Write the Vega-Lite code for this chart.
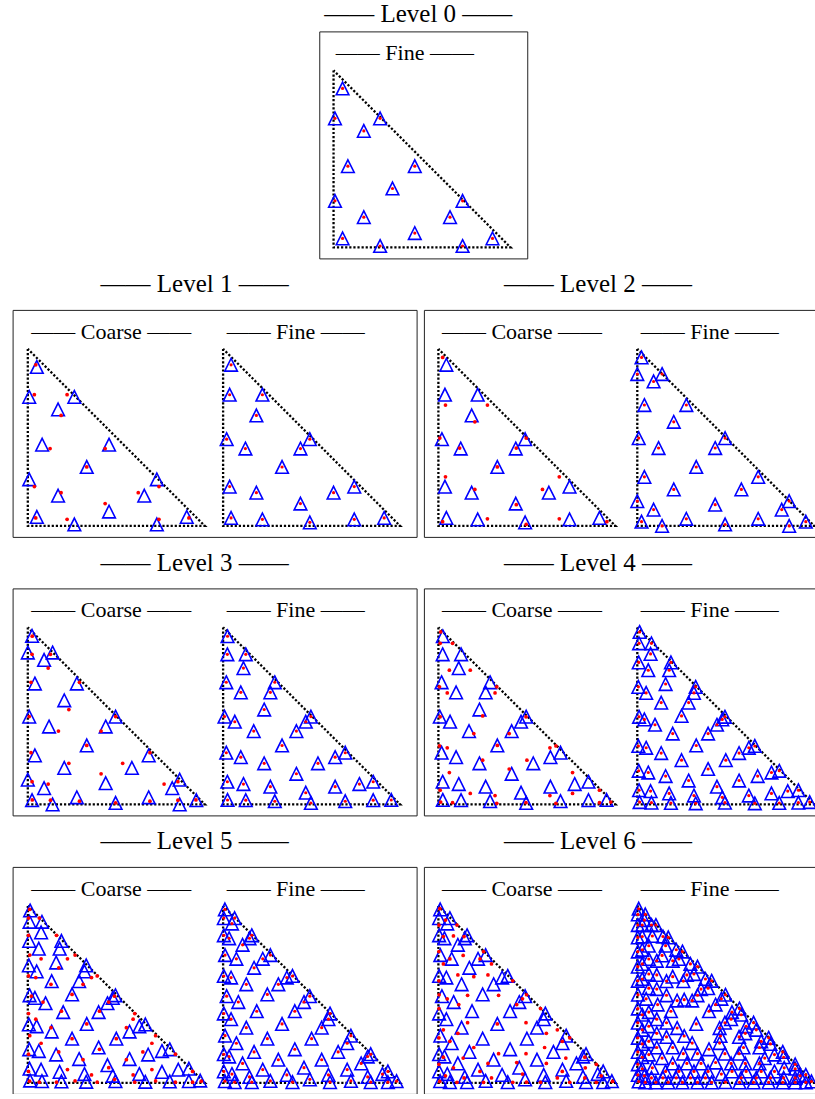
{
"$schema": "https://vega.github.io/schema/vega-lite/v6.json",
"padding": {"left": 11.5, "top": 1.4, "right": 0, "bottom": 0},
"background": "white",
"config": {
  "view": {"stroke": "#222222", "strokeWidth": 1},
  "title": {"font": "Liberation Serif", "fontSize": 25, "fontWeight": "normal", "color": "black", "anchor": "middle", "baseline": "alphabetic"},
  "point": {"shape": "M0,-1L1,1L-1,1Z", "size": 160, "filled": false, "color": "#0000ff", "strokeWidth": 1.6, "opacity": 1},
  "line": {"color": "black", "strokeWidth": 2.3, "strokeDash": [2.2, 1.9]},
  "text": {"align": "left", "baseline": "alphabetic", "font": "Liberation Serif", "fontSize": 22, "color": "black"},
  "circle": {"color": "#ff0000", "opacity": 1}
},
"datasets": {
"tri": [{"i":0,"x":0,"y":1},{"i":1,"x":0,"y":0},{"i":2,"x":1,"y":0},{"i":3,"x":0,"y":1}],
"fine": [
{"l":0,"x":0.333,"y":0.333},
{"l":0,"x":0.081,"y":0.459},{"l":0,"x":0.459,"y":0.459},{"l":0,"x":0.459,"y":0.081},
{"l":0,"x":0.171,"y":0.171},{"l":0,"x":0.171,"y":0.658},{"l":0,"x":0.658,"y":0.171},
{"l":0,"x":0.051,"y":0.051},{"l":0,"x":0.051,"y":0.898},{"l":0,"x":0.898,"y":0.051},
{"l":0,"x":0.008,"y":0.263},{"l":0,"x":0.263,"y":0.008},{"l":0,"x":0.008,"y":0.729},{"l":0,"x":0.729,"y":0.008},{"l":0,"x":0.263,"y":0.729},{"l":0,"x":0.729,"y":0.263},
{"l":1,"x":0.333,"y":0.333},
{"l":1,"x":0.02,"y":0.49},{"l":1,"x":0.49,"y":0.49},{"l":1,"x":0.49,"y":0.02},
{"l":1,"x":0.126,"y":0.437},{"l":1,"x":0.437,"y":0.437},{"l":1,"x":0.437,"y":0.126},
{"l":1,"x":0.188,"y":0.188},{"l":1,"x":0.188,"y":0.624},{"l":1,"x":0.624,"y":0.188},
{"l":1,"x":0.045,"y":0.045},{"l":1,"x":0.045,"y":0.91},{"l":1,"x":0.91,"y":0.045},
{"l":1,"x":0.037,"y":0.222},{"l":1,"x":0.222,"y":0.037},{"l":1,"x":0.037,"y":0.741},{"l":1,"x":0.741,"y":0.037},{"l":1,"x":0.222,"y":0.741},{"l":1,"x":0.741,"y":0.222},
{"l":2,"x":0.333,"y":0.333},
{"l":2,"x":0.008,"y":0.496},{"l":2,"x":0.496,"y":0.496},{"l":2,"x":0.496,"y":0.008},
{"l":2,"x":0.12,"y":0.44},{"l":2,"x":0.44,"y":0.44},{"l":2,"x":0.44,"y":0.12},
{"l":2,"x":0.206,"y":0.206},{"l":2,"x":0.206,"y":0.588},{"l":2,"x":0.588,"y":0.206},
{"l":2,"x":0.024,"y":0.024},{"l":2,"x":0.024,"y":0.952},{"l":2,"x":0.952,"y":0.024},
{"l":2,"x":0.092,"y":0.092},{"l":2,"x":0.092,"y":0.816},{"l":2,"x":0.816,"y":0.092},
{"l":2,"x":0.0,"y":0.14},{"l":2,"x":0.14,"y":0.0},{"l":2,"x":0.0,"y":0.858},{"l":2,"x":0.858,"y":0.0},{"l":2,"x":0.14,"y":0.858},{"l":2,"x":0.858,"y":0.14},
{"l":2,"x":0.04,"y":0.277},{"l":2,"x":0.277,"y":0.04},{"l":2,"x":0.04,"y":0.683},{"l":2,"x":0.683,"y":0.04},{"l":2,"x":0.277,"y":0.683},{"l":2,"x":0.683,"y":0.277},
{"l":3,"x":0.333,"y":0.333},
{"l":3,"x":0.025,"y":0.025},{"l":3,"x":0.025,"y":0.95},{"l":3,"x":0.95,"y":0.025},
{"l":3,"x":0.008,"y":0.496},{"l":3,"x":0.496,"y":0.496},{"l":3,"x":0.496,"y":0.008},
{"l":3,"x":0.066,"y":0.467},{"l":3,"x":0.467,"y":0.467},{"l":3,"x":0.467,"y":0.066},
{"l":3,"x":0.173,"y":0.414},{"l":3,"x":0.414,"y":0.414},{"l":3,"x":0.414,"y":0.173},
{"l":3,"x":0.232,"y":0.232},{"l":3,"x":0.232,"y":0.536},{"l":3,"x":0.536,"y":0.232},
{"l":3,"x":0.115,"y":0.115},{"l":3,"x":0.115,"y":0.77},{"l":3,"x":0.77,"y":0.115},
{"l":3,"x":0.024,"y":0.128},{"l":3,"x":0.128,"y":0.024},{"l":3,"x":0.024,"y":0.848},{"l":3,"x":0.848,"y":0.024},{"l":3,"x":0.128,"y":0.848},{"l":3,"x":0.848,"y":0.128},
{"l":3,"x":0.018,"y":0.292},{"l":3,"x":0.292,"y":0.018},{"l":3,"x":0.018,"y":0.69},{"l":3,"x":0.69,"y":0.018},{"l":3,"x":0.292,"y":0.69},{"l":3,"x":0.69,"y":0.292},
{"l":3,"x":0.1,"y":0.267},{"l":3,"x":0.267,"y":0.1},{"l":3,"x":0.1,"y":0.633},{"l":3,"x":0.633,"y":0.1},{"l":3,"x":0.267,"y":0.633},{"l":3,"x":0.633,"y":0.267},
{"l":4,"x":0.333,"y":0.333},
{"l":4,"x":0.013,"y":0.013},{"l":4,"x":0.013,"y":0.974},{"l":4,"x":0.974,"y":0.013},
{"l":4,"x":0.075,"y":0.075},{"l":4,"x":0.075,"y":0.85},{"l":4,"x":0.85,"y":0.075},
{"l":4,"x":0.16,"y":0.16},{"l":4,"x":0.16,"y":0.68},{"l":4,"x":0.68,"y":0.16},
{"l":4,"x":0.25,"y":0.25},{"l":4,"x":0.25,"y":0.5},{"l":4,"x":0.5,"y":0.25},
{"l":4,"x":0.01,"y":0.495},{"l":4,"x":0.495,"y":0.495},{"l":4,"x":0.495,"y":0.01},
{"l":4,"x":0.04,"y":0.48},{"l":4,"x":0.48,"y":0.48},{"l":4,"x":0.48,"y":0.04},
{"l":4,"x":0.1,"y":0.45},{"l":4,"x":0.45,"y":0.45},{"l":4,"x":0.45,"y":0.1},
{"l":4,"x":0.2,"y":0.4},{"l":4,"x":0.4,"y":0.4},{"l":4,"x":0.4,"y":0.2},
{"l":4,"x":0.01,"y":0.08},{"l":4,"x":0.08,"y":0.01},{"l":4,"x":0.01,"y":0.91},{"l":4,"x":0.91,"y":0.01},{"l":4,"x":0.08,"y":0.91},{"l":4,"x":0.91,"y":0.08},
{"l":4,"x":0.008,"y":0.19},{"l":4,"x":0.19,"y":0.008},{"l":4,"x":0.008,"y":0.802},{"l":4,"x":0.802,"y":0.008},{"l":4,"x":0.19,"y":0.802},{"l":4,"x":0.802,"y":0.19},
{"l":4,"x":0.062,"y":0.18},{"l":4,"x":0.18,"y":0.062},{"l":4,"x":0.062,"y":0.758},{"l":4,"x":0.758,"y":0.062},{"l":4,"x":0.18,"y":0.758},{"l":4,"x":0.758,"y":0.18},
{"l":4,"x":0.006,"y":0.33},{"l":4,"x":0.33,"y":0.006},{"l":4,"x":0.006,"y":0.664},{"l":4,"x":0.664,"y":0.006},{"l":4,"x":0.33,"y":0.664},{"l":4,"x":0.664,"y":0.33},
{"l":4,"x":0.05,"y":0.32},{"l":4,"x":0.32,"y":0.05},{"l":4,"x":0.05,"y":0.63},{"l":4,"x":0.63,"y":0.05},{"l":4,"x":0.32,"y":0.63},{"l":4,"x":0.63,"y":0.32},
{"l":4,"x":0.135,"y":0.29},{"l":4,"x":0.29,"y":0.135},{"l":4,"x":0.135,"y":0.575},{"l":4,"x":0.575,"y":0.135},{"l":4,"x":0.29,"y":0.575},{"l":4,"x":0.575,"y":0.29},
{"l":5,"x":0.333,"y":0.333},
{"l":5,"x":0.01,"y":0.01},{"l":5,"x":0.01,"y":0.98},{"l":5,"x":0.98,"y":0.01},
{"l":5,"x":0.05,"y":0.05},{"l":5,"x":0.05,"y":0.9},{"l":5,"x":0.9,"y":0.05},
{"l":5,"x":0.11,"y":0.11},{"l":5,"x":0.11,"y":0.78},{"l":5,"x":0.78,"y":0.11},
{"l":5,"x":0.175,"y":0.175},{"l":5,"x":0.175,"y":0.65},{"l":5,"x":0.65,"y":0.175},
{"l":5,"x":0.25,"y":0.25},{"l":5,"x":0.25,"y":0.5},{"l":5,"x":0.5,"y":0.25},
{"l":5,"x":0.02,"y":0.49},{"l":5,"x":0.49,"y":0.49},{"l":5,"x":0.49,"y":0.02},
{"l":5,"x":0.086,"y":0.457},{"l":5,"x":0.457,"y":0.457},{"l":5,"x":0.457,"y":0.086},
{"l":5,"x":0.19,"y":0.405},{"l":5,"x":0.405,"y":0.405},{"l":5,"x":0.405,"y":0.19},
{"l":5,"x":0.004,"y":0.065},{"l":5,"x":0.065,"y":0.004},{"l":5,"x":0.004,"y":0.931},{"l":5,"x":0.931,"y":0.004},{"l":5,"x":0.065,"y":0.931},{"l":5,"x":0.931,"y":0.065},
{"l":5,"x":0.004,"y":0.162},{"l":5,"x":0.162,"y":0.004},{"l":5,"x":0.004,"y":0.834},{"l":5,"x":0.834,"y":0.004},{"l":5,"x":0.162,"y":0.834},{"l":5,"x":0.834,"y":0.162},
{"l":5,"x":0.034,"y":0.149},{"l":5,"x":0.149,"y":0.034},{"l":5,"x":0.034,"y":0.817},{"l":5,"x":0.817,"y":0.034},{"l":5,"x":0.149,"y":0.817},{"l":5,"x":0.817,"y":0.149},
{"l":5,"x":0.011,"y":0.267},{"l":5,"x":0.267,"y":0.011},{"l":5,"x":0.011,"y":0.722},{"l":5,"x":0.722,"y":0.011},{"l":5,"x":0.267,"y":0.722},{"l":5,"x":0.722,"y":0.267},
{"l":5,"x":0.075,"y":0.224},{"l":5,"x":0.224,"y":0.075},{"l":5,"x":0.075,"y":0.701},{"l":5,"x":0.701,"y":0.075},{"l":5,"x":0.224,"y":0.701},{"l":5,"x":0.701,"y":0.224},
{"l":5,"x":0.004,"y":0.392},{"l":5,"x":0.392,"y":0.004},{"l":5,"x":0.004,"y":0.604},{"l":5,"x":0.604,"y":0.004},{"l":5,"x":0.392,"y":0.604},{"l":5,"x":0.604,"y":0.392},
{"l":5,"x":0.045,"y":0.36},{"l":5,"x":0.36,"y":0.045},{"l":5,"x":0.045,"y":0.595},{"l":5,"x":0.595,"y":0.045},{"l":5,"x":0.36,"y":0.595},{"l":5,"x":0.595,"y":0.36},
{"l":5,"x":0.131,"y":0.312},{"l":5,"x":0.312,"y":0.131},{"l":5,"x":0.131,"y":0.557},{"l":5,"x":0.557,"y":0.131},{"l":5,"x":0.312,"y":0.557},{"l":5,"x":0.557,"y":0.312},
{"l":6,"x":0.333,"y":0.333},
{"l":6,"x":0.008,"y":0.008},{"l":6,"x":0.008,"y":0.984},{"l":6,"x":0.984,"y":0.008},
{"l":6,"x":0.04,"y":0.04},{"l":6,"x":0.04,"y":0.92},{"l":6,"x":0.92,"y":0.04},
{"l":6,"x":0.085,"y":0.085},{"l":6,"x":0.085,"y":0.83},{"l":6,"x":0.83,"y":0.085},
{"l":6,"x":0.14,"y":0.14},{"l":6,"x":0.14,"y":0.72},{"l":6,"x":0.72,"y":0.14},
{"l":6,"x":0.2,"y":0.2},{"l":6,"x":0.2,"y":0.6},{"l":6,"x":0.6,"y":0.2},
{"l":6,"x":0.265,"y":0.265},{"l":6,"x":0.265,"y":0.47},{"l":6,"x":0.47,"y":0.265},
{"l":6,"x":0.004,"y":0.498},{"l":6,"x":0.498,"y":0.498},{"l":6,"x":0.498,"y":0.004},
{"l":6,"x":0.05,"y":0.475},{"l":6,"x":0.475,"y":0.475},{"l":6,"x":0.475,"y":0.05},
{"l":6,"x":0.115,"y":0.4425},{"l":6,"x":0.4425,"y":0.4425},{"l":6,"x":0.4425,"y":0.115},
{"l":6,"x":0.19,"y":0.405},{"l":6,"x":0.405,"y":0.405},{"l":6,"x":0.405,"y":0.19},
{"l":6,"x":0.003,"y":0.045},{"l":6,"x":0.045,"y":0.003},{"l":6,"x":0.003,"y":0.952},{"l":6,"x":0.952,"y":0.003},{"l":6,"x":0.045,"y":0.952},{"l":6,"x":0.952,"y":0.045},
{"l":6,"x":0.003,"y":0.105},{"l":6,"x":0.105,"y":0.003},{"l":6,"x":0.003,"y":0.892},{"l":6,"x":0.892,"y":0.003},{"l":6,"x":0.105,"y":0.892},{"l":6,"x":0.892,"y":0.105},
{"l":6,"x":0.003,"y":0.175},{"l":6,"x":0.175,"y":0.003},{"l":6,"x":0.003,"y":0.822},{"l":6,"x":0.822,"y":0.003},{"l":6,"x":0.175,"y":0.822},{"l":6,"x":0.822,"y":0.175},
{"l":6,"x":0.003,"y":0.255},{"l":6,"x":0.255,"y":0.003},{"l":6,"x":0.003,"y":0.742},{"l":6,"x":0.742,"y":0.003},{"l":6,"x":0.255,"y":0.742},{"l":6,"x":0.742,"y":0.255},
{"l":6,"x":0.003,"y":0.34},{"l":6,"x":0.34,"y":0.003},{"l":6,"x":0.003,"y":0.657},{"l":6,"x":0.657,"y":0.003},{"l":6,"x":0.34,"y":0.657},{"l":6,"x":0.657,"y":0.34},
{"l":6,"x":0.003,"y":0.42},{"l":6,"x":0.42,"y":0.003},{"l":6,"x":0.003,"y":0.577},{"l":6,"x":0.577,"y":0.003},{"l":6,"x":0.42,"y":0.577},{"l":6,"x":0.577,"y":0.42},
{"l":6,"x":0.028,"y":0.08},{"l":6,"x":0.08,"y":0.028},{"l":6,"x":0.028,"y":0.892},{"l":6,"x":0.892,"y":0.028},{"l":6,"x":0.08,"y":0.892},{"l":6,"x":0.892,"y":0.08},
{"l":6,"x":0.028,"y":0.145},{"l":6,"x":0.145,"y":0.028},{"l":6,"x":0.028,"y":0.827},{"l":6,"x":0.827,"y":0.028},{"l":6,"x":0.145,"y":0.827},{"l":6,"x":0.827,"y":0.145},
{"l":6,"x":0.028,"y":0.22},{"l":6,"x":0.22,"y":0.028},{"l":6,"x":0.028,"y":0.752},{"l":6,"x":0.752,"y":0.028},{"l":6,"x":0.22,"y":0.752},{"l":6,"x":0.752,"y":0.22},
{"l":6,"x":0.028,"y":0.3},{"l":6,"x":0.3,"y":0.028},{"l":6,"x":0.028,"y":0.672},{"l":6,"x":0.672,"y":0.028},{"l":6,"x":0.3,"y":0.672},{"l":6,"x":0.672,"y":0.3},
{"l":6,"x":0.028,"y":0.385},{"l":6,"x":0.385,"y":0.028},{"l":6,"x":0.028,"y":0.587},{"l":6,"x":0.587,"y":0.028},{"l":6,"x":0.385,"y":0.587},{"l":6,"x":0.587,"y":0.385},
{"l":6,"x":0.065,"y":0.16},{"l":6,"x":0.16,"y":0.065},{"l":6,"x":0.065,"y":0.775},{"l":6,"x":0.775,"y":0.065},{"l":6,"x":0.16,"y":0.775},{"l":6,"x":0.775,"y":0.16},
{"l":6,"x":0.065,"y":0.235},{"l":6,"x":0.235,"y":0.065},{"l":6,"x":0.065,"y":0.7},{"l":6,"x":0.7,"y":0.065},{"l":6,"x":0.235,"y":0.7},{"l":6,"x":0.7,"y":0.235},
{"l":6,"x":0.065,"y":0.32},{"l":6,"x":0.32,"y":0.065},{"l":6,"x":0.065,"y":0.615},{"l":6,"x":0.615,"y":0.065},{"l":6,"x":0.32,"y":0.615},{"l":6,"x":0.615,"y":0.32},
{"l":6,"x":0.065,"y":0.4},{"l":6,"x":0.4,"y":0.065},{"l":6,"x":0.065,"y":0.535},{"l":6,"x":0.535,"y":0.065},{"l":6,"x":0.4,"y":0.535},{"l":6,"x":0.535,"y":0.4},
{"l":6,"x":0.11,"y":0.2},{"l":6,"x":0.2,"y":0.11},{"l":6,"x":0.11,"y":0.69},{"l":6,"x":0.69,"y":0.11},{"l":6,"x":0.2,"y":0.69},{"l":6,"x":0.69,"y":0.2},
{"l":6,"x":0.11,"y":0.28},{"l":6,"x":0.28,"y":0.11},{"l":6,"x":0.11,"y":0.61},{"l":6,"x":0.61,"y":0.11},{"l":6,"x":0.28,"y":0.61},{"l":6,"x":0.61,"y":0.28},
{"l":6,"x":0.11,"y":0.36},{"l":6,"x":0.36,"y":0.11},{"l":6,"x":0.11,"y":0.53},{"l":6,"x":0.53,"y":0.11},{"l":6,"x":0.36,"y":0.53},{"l":6,"x":0.53,"y":0.36},
{"l":6,"x":0.165,"y":0.26},{"l":6,"x":0.26,"y":0.165},{"l":6,"x":0.165,"y":0.575},{"l":6,"x":0.575,"y":0.165},{"l":6,"x":0.26,"y":0.575},{"l":6,"x":0.575,"y":0.26},
{"l":6,"x":0.165,"y":0.34},{"l":6,"x":0.34,"y":0.165},{"l":6,"x":0.165,"y":0.495},{"l":6,"x":0.495,"y":0.165},{"l":6,"x":0.34,"y":0.495},{"l":6,"x":0.495,"y":0.34},
{"l":6,"x":0.225,"y":0.31},{"l":6,"x":0.31,"y":0.225},{"l":6,"x":0.225,"y":0.465},{"l":6,"x":0.465,"y":0.225},{"l":6,"x":0.31,"y":0.465},{"l":6,"x":0.465,"y":0.31}
],
"red": [
{"l":1,"x":0.333,"y":0.333},
{"l":1,"x":0.126,"y":0.437},{"l":1,"x":0.437,"y":0.437},{"l":1,"x":0.437,"y":0.126},
{"l":1,"x":0.188,"y":0.188},{"l":1,"x":0.188,"y":0.624},{"l":1,"x":0.624,"y":0.188},
{"l":1,"x":0.045,"y":0.045},{"l":1,"x":0.045,"y":0.91},{"l":1,"x":0.91,"y":0.045},
{"l":1,"x":0.037,"y":0.222},{"l":1,"x":0.222,"y":0.037},{"l":1,"x":0.037,"y":0.741},{"l":1,"x":0.741,"y":0.037},{"l":1,"x":0.222,"y":0.741},{"l":1,"x":0.741,"y":0.222},
{"l":2,"x":0.333,"y":0.333},
{"l":2,"x":0.008,"y":0.496},{"l":2,"x":0.496,"y":0.496},{"l":2,"x":0.496,"y":0.008},
{"l":2,"x":0.12,"y":0.44},{"l":2,"x":0.44,"y":0.44},{"l":2,"x":0.44,"y":0.12},
{"l":2,"x":0.206,"y":0.206},{"l":2,"x":0.206,"y":0.588},{"l":2,"x":0.588,"y":0.206},
{"l":2,"x":0.024,"y":0.024},{"l":2,"x":0.024,"y":0.952},{"l":2,"x":0.952,"y":0.024},
{"l":2,"x":0.04,"y":0.277},{"l":2,"x":0.277,"y":0.04},{"l":2,"x":0.04,"y":0.683},{"l":2,"x":0.683,"y":0.04},{"l":2,"x":0.277,"y":0.683},{"l":2,"x":0.683,"y":0.277},
{"l":3,"x":0.333,"y":0.333},
{"l":3,"x":0.025,"y":0.025},{"l":3,"x":0.025,"y":0.95},{"l":3,"x":0.95,"y":0.025},
{"l":3,"x":0.008,"y":0.496},{"l":3,"x":0.496,"y":0.496},{"l":3,"x":0.496,"y":0.008},
{"l":3,"x":0.173,"y":0.414},{"l":3,"x":0.414,"y":0.414},{"l":3,"x":0.414,"y":0.173},
{"l":3,"x":0.232,"y":0.232},{"l":3,"x":0.232,"y":0.536},{"l":3,"x":0.536,"y":0.232},
{"l":3,"x":0.115,"y":0.115},{"l":3,"x":0.115,"y":0.77},{"l":3,"x":0.77,"y":0.115},
{"l":3,"x":0.024,"y":0.128},{"l":3,"x":0.128,"y":0.024},{"l":3,"x":0.024,"y":0.848},{"l":3,"x":0.848,"y":0.024},{"l":3,"x":0.128,"y":0.848},{"l":3,"x":0.848,"y":0.128},
{"l":3,"x":0.018,"y":0.292},{"l":3,"x":0.292,"y":0.018},{"l":3,"x":0.018,"y":0.69},{"l":3,"x":0.69,"y":0.018},{"l":3,"x":0.292,"y":0.69},{"l":3,"x":0.69,"y":0.292},
{"l":4,"x":0.333,"y":0.333},
{"l":4,"x":0.013,"y":0.013},{"l":4,"x":0.013,"y":0.974},{"l":4,"x":0.974,"y":0.013},
{"l":4,"x":0.25,"y":0.25},{"l":4,"x":0.25,"y":0.5},{"l":4,"x":0.5,"y":0.25},
{"l":4,"x":0.01,"y":0.495},{"l":4,"x":0.495,"y":0.495},{"l":4,"x":0.495,"y":0.01},
{"l":4,"x":0.2,"y":0.4},{"l":4,"x":0.4,"y":0.4},{"l":4,"x":0.4,"y":0.2},
{"l":4,"x":0.01,"y":0.08},{"l":4,"x":0.08,"y":0.01},{"l":4,"x":0.01,"y":0.91},{"l":4,"x":0.91,"y":0.01},{"l":4,"x":0.08,"y":0.91},{"l":4,"x":0.91,"y":0.08},
{"l":4,"x":0.062,"y":0.18},{"l":4,"x":0.18,"y":0.062},{"l":4,"x":0.062,"y":0.758},{"l":4,"x":0.758,"y":0.062},{"l":4,"x":0.18,"y":0.758},{"l":4,"x":0.758,"y":0.18},
{"l":4,"x":0.006,"y":0.33},{"l":4,"x":0.33,"y":0.006},{"l":4,"x":0.006,"y":0.664},{"l":4,"x":0.664,"y":0.006},{"l":4,"x":0.33,"y":0.664},{"l":4,"x":0.664,"y":0.33},
{"l":4,"x":0.05,"y":0.32},{"l":4,"x":0.32,"y":0.05},{"l":4,"x":0.05,"y":0.63},{"l":4,"x":0.63,"y":0.05},{"l":4,"x":0.32,"y":0.63},{"l":4,"x":0.63,"y":0.32},
{"l":5,"x":0.333,"y":0.333},
{"l":5,"x":0.01,"y":0.01},{"l":5,"x":0.01,"y":0.98},{"l":5,"x":0.98,"y":0.01},
{"l":5,"x":0.175,"y":0.175},{"l":5,"x":0.175,"y":0.65},{"l":5,"x":0.65,"y":0.175},
{"l":5,"x":0.25,"y":0.25},{"l":5,"x":0.25,"y":0.5},{"l":5,"x":0.5,"y":0.25},
{"l":5,"x":0.02,"y":0.49},{"l":5,"x":0.49,"y":0.49},{"l":5,"x":0.49,"y":0.02},
{"l":5,"x":0.086,"y":0.457},{"l":5,"x":0.457,"y":0.457},{"l":5,"x":0.457,"y":0.086},
{"l":5,"x":0.19,"y":0.405},{"l":5,"x":0.405,"y":0.405},{"l":5,"x":0.405,"y":0.19},
{"l":5,"x":0.004,"y":0.065},{"l":5,"x":0.065,"y":0.004},{"l":5,"x":0.004,"y":0.931},{"l":5,"x":0.931,"y":0.004},{"l":5,"x":0.065,"y":0.931},{"l":5,"x":0.931,"y":0.065},
{"l":5,"x":0.004,"y":0.162},{"l":5,"x":0.162,"y":0.004},{"l":5,"x":0.004,"y":0.834},{"l":5,"x":0.834,"y":0.004},{"l":5,"x":0.162,"y":0.834},{"l":5,"x":0.834,"y":0.162},
{"l":5,"x":0.011,"y":0.267},{"l":5,"x":0.267,"y":0.011},{"l":5,"x":0.011,"y":0.722},{"l":5,"x":0.722,"y":0.011},{"l":5,"x":0.267,"y":0.722},{"l":5,"x":0.722,"y":0.267},
{"l":5,"x":0.075,"y":0.224},{"l":5,"x":0.224,"y":0.075},{"l":5,"x":0.075,"y":0.701},{"l":5,"x":0.701,"y":0.075},{"l":5,"x":0.224,"y":0.701},{"l":5,"x":0.701,"y":0.224},
{"l":5,"x":0.004,"y":0.392},{"l":5,"x":0.392,"y":0.004},{"l":5,"x":0.004,"y":0.604},{"l":5,"x":0.604,"y":0.004},{"l":5,"x":0.392,"y":0.604},{"l":5,"x":0.604,"y":0.392},
{"l":5,"x":0.045,"y":0.36},{"l":5,"x":0.36,"y":0.045},{"l":5,"x":0.045,"y":0.595},{"l":5,"x":0.595,"y":0.045},{"l":5,"x":0.36,"y":0.595},{"l":5,"x":0.595,"y":0.36},
{"l":5,"x":0.131,"y":0.312},{"l":5,"x":0.312,"y":0.131},{"l":5,"x":0.131,"y":0.557},{"l":5,"x":0.557,"y":0.131},{"l":5,"x":0.312,"y":0.557},{"l":5,"x":0.557,"y":0.312},
{"l":6,"x":0.333,"y":0.333},
{"l":6,"x":0.008,"y":0.008},{"l":6,"x":0.008,"y":0.984},{"l":6,"x":0.984,"y":0.008},
{"l":6,"x":0.04,"y":0.04},{"l":6,"x":0.04,"y":0.92},{"l":6,"x":0.92,"y":0.04},
{"l":6,"x":0.085,"y":0.085},{"l":6,"x":0.085,"y":0.83},{"l":6,"x":0.83,"y":0.085},
{"l":6,"x":0.14,"y":0.14},{"l":6,"x":0.14,"y":0.72},{"l":6,"x":0.72,"y":0.14},
{"l":6,"x":0.2,"y":0.2},{"l":6,"x":0.2,"y":0.6},{"l":6,"x":0.6,"y":0.2},
{"l":6,"x":0.004,"y":0.498},{"l":6,"x":0.498,"y":0.498},{"l":6,"x":0.498,"y":0.004},
{"l":6,"x":0.05,"y":0.475},{"l":6,"x":0.475,"y":0.475},{"l":6,"x":0.475,"y":0.05},
{"l":6,"x":0.115,"y":0.4425},{"l":6,"x":0.4425,"y":0.4425},{"l":6,"x":0.4425,"y":0.115},
{"l":6,"x":0.003,"y":0.105},{"l":6,"x":0.105,"y":0.003},{"l":6,"x":0.003,"y":0.892},{"l":6,"x":0.892,"y":0.003},{"l":6,"x":0.105,"y":0.892},{"l":6,"x":0.892,"y":0.105},
{"l":6,"x":0.003,"y":0.255},{"l":6,"x":0.255,"y":0.003},{"l":6,"x":0.003,"y":0.742},{"l":6,"x":0.742,"y":0.003},{"l":6,"x":0.255,"y":0.742},{"l":6,"x":0.742,"y":0.255},
{"l":6,"x":0.003,"y":0.42},{"l":6,"x":0.42,"y":0.003},{"l":6,"x":0.003,"y":0.577},{"l":6,"x":0.577,"y":0.003},{"l":6,"x":0.42,"y":0.577},{"l":6,"x":0.577,"y":0.42},
{"l":6,"x":0.028,"y":0.145},{"l":6,"x":0.145,"y":0.028},{"l":6,"x":0.028,"y":0.827},{"l":6,"x":0.827,"y":0.028},{"l":6,"x":0.145,"y":0.827},{"l":6,"x":0.827,"y":0.145},
{"l":6,"x":0.028,"y":0.3},{"l":6,"x":0.3,"y":0.028},{"l":6,"x":0.028,"y":0.672},{"l":6,"x":0.672,"y":0.028},{"l":6,"x":0.3,"y":0.672},{"l":6,"x":0.672,"y":0.3},
{"l":6,"x":0.065,"y":0.235},{"l":6,"x":0.235,"y":0.065},{"l":6,"x":0.065,"y":0.7},{"l":6,"x":0.7,"y":0.065},{"l":6,"x":0.235,"y":0.7},{"l":6,"x":0.7,"y":0.235},
{"l":6,"x":0.11,"y":0.28},{"l":6,"x":0.28,"y":0.11},{"l":6,"x":0.11,"y":0.61},{"l":6,"x":0.61,"y":0.11},{"l":6,"x":0.28,"y":0.61},{"l":6,"x":0.61,"y":0.28},
{"l":6,"x":0.165,"y":0.34},{"l":6,"x":0.34,"y":0.165},{"l":6,"x":0.165,"y":0.495},{"l":6,"x":0.495,"y":0.165},{"l":6,"x":0.34,"y":0.495},{"l":6,"x":0.495,"y":0.34}
]
},
"spacing": 12.5,
"center": true,
"vconcat": [
{
 "width": 208, "height": 227,
 "title": {"text": "—— Level 0 ——", "offset": 4, "dx": -5},
 "layer": [
  {"data": {"name": "tri"}, "mark": "line",
   "encoding": {"x": {"field": "x", "type": "quantitative", "scale": {"domain": [-0.0808, 1.0944], "nice": false}, "axis": null},
                "y": {"field": "y", "type": "quantitative", "scale": {"domain": [-0.0621, 1.2203], "nice": false}, "axis": null},
                "order": {"field": "i", "type": "quantitative"}}},
  {"data": {"name": "fine"}, "transform": [{"filter": "datum.l == 0"}], "mark": "point",
   "encoding": {"x": {"field": "x", "type": "quantitative", "scale": {"domain": [-0.0808, 1.0944], "nice": false}, "axis": null},
                "y": {"field": "y", "type": "quantitative", "scale": {"domain": [-0.0621, 1.2203], "nice": false}, "axis": null}}},
  {"data": {"name": "fine"}, "transform": [{"filter": "datum.l == 0"}], "mark": {"type": "circle", "size": 10},
   "encoding": {"x": {"field": "x", "type": "quantitative", "scale": {"domain": [-0.0808, 1.0944], "nice": false}, "axis": null},
                "y": {"field": "y", "type": "quantitative", "scale": {"domain": [-0.0621, 1.2203], "nice": false}, "axis": null}}},
  {"data": {"values": [{}]}, "mark": "text",
   "encoding": {"x": {"datum": 0.013, "type": "quantitative", "scale": {"domain": [-0.0808, 1.0944], "nice": false}, "axis": null},
                "y": {"datum": 1.0565, "type": "quantitative", "scale": {"domain": [-0.0621, 1.2203], "nice": false}, "axis": null},
                "text": {"value": "—— Fine ——"}}}
 ]
},
{"hconcat": [
 {"width": 404, "height": 227, "title": {"text": "—— Level 1 ——", "offset": 12.4, "dx": -20},
  "resolve": {"scale": {"x": "independent"}},
  "layer": [
   {"layer": [
    {"data": {"name": "tri"}, "mark": "line",
     "encoding": {"x": {"field": "x", "type": "quantitative", "scale": {"domain": [-0.0859, 2.1966], "nice": false}, "axis": null},
                  "y": {"field": "y", "type": "quantitative", "scale": {"domain": [-0.0621, 1.2203], "nice": false}, "axis": null},
                  "order": {"field": "i", "type": "quantitative"}}},
    {"data": {"name": "fine"}, "transform": [{"filter": "datum.l == 0"}], "mark": "point",
     "encoding": {"x": {"field": "x", "type": "quantitative", "scale": {"domain": [-0.0859, 2.1966], "nice": false}, "axis": null},
                  "y": {"field": "y", "type": "quantitative", "scale": {"domain": [-0.0621, 1.2203], "nice": false}, "axis": null}}},
    {"data": {"name": "red"}, "transform": [{"filter": "datum.l == 1"}], "mark": {"type": "circle", "size": 14},
     "encoding": {"x": {"field": "x", "type": "quantitative", "scale": {"domain": [-0.0859, 2.1966], "nice": false}, "axis": null},
                  "y": {"field": "y", "type": "quantitative", "scale": {"domain": [-0.0621, 1.2203], "nice": false}, "axis": null}}},
    {"data": {"values": [{}]}, "mark": "text",
     "encoding": {"x": {"datum": 0.02, "type": "quantitative", "scale": {"domain": [-0.0859, 2.1966], "nice": false}, "axis": null},
                  "y": {"datum": 1.0565, "type": "quantitative", "scale": {"domain": [-0.0621, 1.2203], "nice": false}, "axis": null},
                  "text": {"value": "—— Coarse ——"}}}
   ]},
   {"layer": [
    {"data": {"name": "tri"}, "mark": "line",
     "encoding": {"x": {"field": "x", "type": "quantitative", "scale": {"domain": [-1.1893, 1.0932], "nice": false}, "axis": null},
                  "y": {"field": "y", "type": "quantitative", "scale": {"domain": [-0.0621, 1.2203], "nice": false}, "axis": null},
                  "order": {"field": "i", "type": "quantitative"}}},
    {"data": {"name": "fine"}, "transform": [{"filter": "datum.l == 1"}], "mark": "point",
     "encoding": {"x": {"field": "x", "type": "quantitative", "scale": {"domain": [-1.1893, 1.0932], "nice": false}, "axis": null},
                  "y": {"field": "y", "type": "quantitative", "scale": {"domain": [-0.0621, 1.2203], "nice": false}, "axis": null}}},
    {"data": {"name": "fine"}, "transform": [{"filter": "datum.l == 1"}], "mark": {"type": "circle", "size": 10},
     "encoding": {"x": {"field": "x", "type": "quantitative", "scale": {"domain": [-1.1893, 1.0932], "nice": false}, "axis": null},
                  "y": {"field": "y", "type": "quantitative", "scale": {"domain": [-0.0621, 1.2203], "nice": false}, "axis": null}}},
    {"data": {"values": [{}]}, "mark": "text",
     "encoding": {"x": {"datum": 0.02, "type": "quantitative", "scale": {"domain": [-1.1893, 1.0932], "nice": false}, "axis": null},
                  "y": {"datum": 1.0565, "type": "quantitative", "scale": {"domain": [-0.0621, 1.2203], "nice": false}, "axis": null},
                  "text": {"value": "—— Fine ——"}}}
   ]}
  ]},
 {"width": 410, "height": 227, "title": {"text": "—— Level 2 ——", "offset": 12.4, "dx": -31},
  "resolve": {"scale": {"x": "independent"}},
  "layer": [
   {"layer": [
    {"data": {"name": "tri"}, "mark": "line",
     "encoding": {"x": {"field": "x", "type": "quantitative", "scale": {"domain": [-0.0819, 2.2345], "nice": false}, "axis": null},
                  "y": {"field": "y", "type": "quantitative", "scale": {"domain": [-0.0621, 1.2203], "nice": false}, "axis": null},
                  "order": {"field": "i", "type": "quantitative"}}},
    {"data": {"name": "fine"}, "transform": [{"filter": "datum.l == 1"}], "mark": "point",
     "encoding": {"x": {"field": "x", "type": "quantitative", "scale": {"domain": [-0.0819, 2.2345], "nice": false}, "axis": null},
                  "y": {"field": "y", "type": "quantitative", "scale": {"domain": [-0.0621, 1.2203], "nice": false}, "axis": null}}},
    {"data": {"name": "red"}, "transform": [{"filter": "datum.l == 2"}], "mark": {"type": "circle", "size": 14},
     "encoding": {"x": {"field": "x", "type": "quantitative", "scale": {"domain": [-0.0819, 2.2345], "nice": false}, "axis": null},
                  "y": {"field": "y", "type": "quantitative", "scale": {"domain": [-0.0621, 1.2203], "nice": false}, "axis": null}}},
    {"data": {"values": [{}]}, "mark": "text",
     "encoding": {"x": {"datum": 0.02, "type": "quantitative", "scale": {"domain": [-0.0819, 2.2345], "nice": false}, "axis": null},
                  "y": {"datum": 1.0565, "type": "quantitative", "scale": {"domain": [-0.0621, 1.2203], "nice": false}, "axis": null},
                  "text": {"value": "—— Coarse ——"}}}
   ]},
   {"layer": [
    {"data": {"name": "tri"}, "mark": "line",
     "encoding": {"x": {"field": "x", "type": "quantitative", "scale": {"domain": [-1.2056, 1.1107], "nice": false}, "axis": null},
                  "y": {"field": "y", "type": "quantitative", "scale": {"domain": [-0.0621, 1.2203], "nice": false}, "axis": null},
                  "order": {"field": "i", "type": "quantitative"}}},
    {"data": {"name": "fine"}, "transform": [{"filter": "datum.l == 2"}], "mark": "point",
     "encoding": {"x": {"field": "x", "type": "quantitative", "scale": {"domain": [-1.2056, 1.1107], "nice": false}, "axis": null},
                  "y": {"field": "y", "type": "quantitative", "scale": {"domain": [-0.0621, 1.2203], "nice": false}, "axis": null}}},
    {"data": {"name": "fine"}, "transform": [{"filter": "datum.l == 2"}], "mark": {"type": "circle", "size": 10},
     "encoding": {"x": {"field": "x", "type": "quantitative", "scale": {"domain": [-1.2056, 1.1107], "nice": false}, "axis": null},
                  "y": {"field": "y", "type": "quantitative", "scale": {"domain": [-0.0621, 1.2203], "nice": false}, "axis": null}}},
    {"data": {"values": [{}]}, "mark": "text",
     "encoding": {"x": {"datum": 0.02, "type": "quantitative", "scale": {"domain": [-1.2056, 1.1107], "nice": false}, "axis": null},
                  "y": {"datum": 1.0565, "type": "quantitative", "scale": {"domain": [-0.0621, 1.2203], "nice": false}, "axis": null},
                  "text": {"value": "—— Fine ——"}}}
   ]}
  ]}
 ], "spacing": 7.3, "bounds": "flush"},
{"hconcat": [
 {"width": 404, "height": 227, "title": {"text": "—— Level 3 ——", "offset": 12.4, "dx": -20},
  "resolve": {"scale": {"x": "independent"}},
  "layer": [
   {"layer": [
    {"data": {"name": "tri"}, "mark": "line",
     "encoding": {"x": {"field": "x", "type": "quantitative", "scale": {"domain": [-0.0859, 2.1966], "nice": false}, "axis": null},
                  "y": {"field": "y", "type": "quantitative", "scale": {"domain": [-0.0621, 1.2203], "nice": false}, "axis": null},
                  "order": {"field": "i", "type": "quantitative"}}},
    {"data": {"name": "fine"}, "transform": [{"filter": "datum.l == 2"}], "mark": "point",
     "encoding": {"x": {"field": "x", "type": "quantitative", "scale": {"domain": [-0.0859, 2.1966], "nice": false}, "axis": null},
                  "y": {"field": "y", "type": "quantitative", "scale": {"domain": [-0.0621, 1.2203], "nice": false}, "axis": null}}},
    {"data": {"name": "red"}, "transform": [{"filter": "datum.l == 3"}], "mark": {"type": "circle", "size": 14},
     "encoding": {"x": {"field": "x", "type": "quantitative", "scale": {"domain": [-0.0859, 2.1966], "nice": false}, "axis": null},
                  "y": {"field": "y", "type": "quantitative", "scale": {"domain": [-0.0621, 1.2203], "nice": false}, "axis": null}}},
    {"data": {"values": [{}]}, "mark": "text",
     "encoding": {"x": {"datum": 0.02, "type": "quantitative", "scale": {"domain": [-0.0859, 2.1966], "nice": false}, "axis": null},
                  "y": {"datum": 1.0565, "type": "quantitative", "scale": {"domain": [-0.0621, 1.2203], "nice": false}, "axis": null},
                  "text": {"value": "—— Coarse ——"}}}
   ]},
   {"layer": [
    {"data": {"name": "tri"}, "mark": "line",
     "encoding": {"x": {"field": "x", "type": "quantitative", "scale": {"domain": [-1.1893, 1.0932], "nice": false}, "axis": null},
                  "y": {"field": "y", "type": "quantitative", "scale": {"domain": [-0.0621, 1.2203], "nice": false}, "axis": null},
                  "order": {"field": "i", "type": "quantitative"}}},
    {"data": {"name": "fine"}, "transform": [{"filter": "datum.l == 3"}], "mark": "point",
     "encoding": {"x": {"field": "x", "type": "quantitative", "scale": {"domain": [-1.1893, 1.0932], "nice": false}, "axis": null},
                  "y": {"field": "y", "type": "quantitative", "scale": {"domain": [-0.0621, 1.2203], "nice": false}, "axis": null}}},
    {"data": {"name": "fine"}, "transform": [{"filter": "datum.l == 3"}], "mark": {"type": "circle", "size": 10},
     "encoding": {"x": {"field": "x", "type": "quantitative", "scale": {"domain": [-1.1893, 1.0932], "nice": false}, "axis": null},
                  "y": {"field": "y", "type": "quantitative", "scale": {"domain": [-0.0621, 1.2203], "nice": false}, "axis": null}}},
    {"data": {"values": [{}]}, "mark": "text",
     "encoding": {"x": {"datum": 0.02, "type": "quantitative", "scale": {"domain": [-1.1893, 1.0932], "nice": false}, "axis": null},
                  "y": {"datum": 1.0565, "type": "quantitative", "scale": {"domain": [-0.0621, 1.2203], "nice": false}, "axis": null},
                  "text": {"value": "—— Fine ——"}}}
   ]}
  ]},
 {"width": 410, "height": 227, "title": {"text": "—— Level 4 ——", "offset": 12.4, "dx": -31},
  "resolve": {"scale": {"x": "independent"}},
  "layer": [
   {"layer": [
    {"data": {"name": "tri"}, "mark": "line",
     "encoding": {"x": {"field": "x", "type": "quantitative", "scale": {"domain": [-0.0819, 2.2345], "nice": false}, "axis": null},
                  "y": {"field": "y", "type": "quantitative", "scale": {"domain": [-0.0621, 1.2203], "nice": false}, "axis": null},
                  "order": {"field": "i", "type": "quantitative"}}},
    {"data": {"name": "fine"}, "transform": [{"filter": "datum.l == 3"}], "mark": "point",
     "encoding": {"x": {"field": "x", "type": "quantitative", "scale": {"domain": [-0.0819, 2.2345], "nice": false}, "axis": null},
                  "y": {"field": "y", "type": "quantitative", "scale": {"domain": [-0.0621, 1.2203], "nice": false}, "axis": null}}},
    {"data": {"name": "red"}, "transform": [{"filter": "datum.l == 4"}], "mark": {"type": "circle", "size": 14},
     "encoding": {"x": {"field": "x", "type": "quantitative", "scale": {"domain": [-0.0819, 2.2345], "nice": false}, "axis": null},
                  "y": {"field": "y", "type": "quantitative", "scale": {"domain": [-0.0621, 1.2203], "nice": false}, "axis": null}}},
    {"data": {"values": [{}]}, "mark": "text",
     "encoding": {"x": {"datum": 0.02, "type": "quantitative", "scale": {"domain": [-0.0819, 2.2345], "nice": false}, "axis": null},
                  "y": {"datum": 1.0565, "type": "quantitative", "scale": {"domain": [-0.0621, 1.2203], "nice": false}, "axis": null},
                  "text": {"value": "—— Coarse ——"}}}
   ]},
   {"layer": [
    {"data": {"name": "tri"}, "mark": "line",
     "encoding": {"x": {"field": "x", "type": "quantitative", "scale": {"domain": [-1.2056, 1.1107], "nice": false}, "axis": null},
                  "y": {"field": "y", "type": "quantitative", "scale": {"domain": [-0.0621, 1.2203], "nice": false}, "axis": null},
                  "order": {"field": "i", "type": "quantitative"}}},
    {"data": {"name": "fine"}, "transform": [{"filter": "datum.l == 4"}], "mark": "point",
     "encoding": {"x": {"field": "x", "type": "quantitative", "scale": {"domain": [-1.2056, 1.1107], "nice": false}, "axis": null},
                  "y": {"field": "y", "type": "quantitative", "scale": {"domain": [-0.0621, 1.2203], "nice": false}, "axis": null}}},
    {"data": {"name": "fine"}, "transform": [{"filter": "datum.l == 4"}], "mark": {"type": "circle", "size": 10},
     "encoding": {"x": {"field": "x", "type": "quantitative", "scale": {"domain": [-1.2056, 1.1107], "nice": false}, "axis": null},
                  "y": {"field": "y", "type": "quantitative", "scale": {"domain": [-0.0621, 1.2203], "nice": false}, "axis": null}}},
    {"data": {"values": [{}]}, "mark": "text",
     "encoding": {"x": {"datum": 0.02, "type": "quantitative", "scale": {"domain": [-1.2056, 1.1107], "nice": false}, "axis": null},
                  "y": {"datum": 1.0565, "type": "quantitative", "scale": {"domain": [-0.0621, 1.2203], "nice": false}, "axis": null},
                  "text": {"value": "—— Fine ——"}}}
   ]}
  ]}
 ], "spacing": 7.3, "bounds": "flush"},
{"hconcat": [
 {"width": 404, "height": 227, "title": {"text": "—— Level 5 ——", "offset": 12.4, "dx": -20},
  "resolve": {"scale": {"x": "independent"}},
  "layer": [
   {"layer": [
    {"data": {"name": "tri"}, "mark": "line",
     "encoding": {"x": {"field": "x", "type": "quantitative", "scale": {"domain": [-0.0859, 2.1966], "nice": false}, "axis": null},
                  "y": {"field": "y", "type": "quantitative", "scale": {"domain": [-0.0621, 1.2203], "nice": false}, "axis": null},
                  "order": {"field": "i", "type": "quantitative"}}},
    {"data": {"name": "fine"}, "transform": [{"filter": "datum.l == 4"}], "mark": "point",
     "encoding": {"x": {"field": "x", "type": "quantitative", "scale": {"domain": [-0.0859, 2.1966], "nice": false}, "axis": null},
                  "y": {"field": "y", "type": "quantitative", "scale": {"domain": [-0.0621, 1.2203], "nice": false}, "axis": null}}},
    {"data": {"name": "red"}, "transform": [{"filter": "datum.l == 5"}], "mark": {"type": "circle", "size": 14},
     "encoding": {"x": {"field": "x", "type": "quantitative", "scale": {"domain": [-0.0859, 2.1966], "nice": false}, "axis": null},
                  "y": {"field": "y", "type": "quantitative", "scale": {"domain": [-0.0621, 1.2203], "nice": false}, "axis": null}}},
    {"data": {"values": [{}]}, "mark": "text",
     "encoding": {"x": {"datum": 0.02, "type": "quantitative", "scale": {"domain": [-0.0859, 2.1966], "nice": false}, "axis": null},
                  "y": {"datum": 1.0565, "type": "quantitative", "scale": {"domain": [-0.0621, 1.2203], "nice": false}, "axis": null},
                  "text": {"value": "—— Coarse ——"}}}
   ]},
   {"layer": [
    {"data": {"name": "tri"}, "mark": "line",
     "encoding": {"x": {"field": "x", "type": "quantitative", "scale": {"domain": [-1.1893, 1.0932], "nice": false}, "axis": null},
                  "y": {"field": "y", "type": "quantitative", "scale": {"domain": [-0.0621, 1.2203], "nice": false}, "axis": null},
                  "order": {"field": "i", "type": "quantitative"}}},
    {"data": {"name": "fine"}, "transform": [{"filter": "datum.l == 5"}], "mark": "point",
     "encoding": {"x": {"field": "x", "type": "quantitative", "scale": {"domain": [-1.1893, 1.0932], "nice": false}, "axis": null},
                  "y": {"field": "y", "type": "quantitative", "scale": {"domain": [-0.0621, 1.2203], "nice": false}, "axis": null}}},
    {"data": {"name": "fine"}, "transform": [{"filter": "datum.l == 5"}], "mark": {"type": "circle", "size": 10},
     "encoding": {"x": {"field": "x", "type": "quantitative", "scale": {"domain": [-1.1893, 1.0932], "nice": false}, "axis": null},
                  "y": {"field": "y", "type": "quantitative", "scale": {"domain": [-0.0621, 1.2203], "nice": false}, "axis": null}}},
    {"data": {"values": [{}]}, "mark": "text",
     "encoding": {"x": {"datum": 0.02, "type": "quantitative", "scale": {"domain": [-1.1893, 1.0932], "nice": false}, "axis": null},
                  "y": {"datum": 1.0565, "type": "quantitative", "scale": {"domain": [-0.0621, 1.2203], "nice": false}, "axis": null},
                  "text": {"value": "—— Fine ——"}}}
   ]}
  ]},
 {"width": 410, "height": 227, "title": {"text": "—— Level 6 ——", "offset": 12.4, "dx": -31},
  "resolve": {"scale": {"x": "independent"}},
  "layer": [
   {"layer": [
    {"data": {"name": "tri"}, "mark": "line",
     "encoding": {"x": {"field": "x", "type": "quantitative", "scale": {"domain": [-0.0819, 2.2345], "nice": false}, "axis": null},
                  "y": {"field": "y", "type": "quantitative", "scale": {"domain": [-0.0621, 1.2203], "nice": false}, "axis": null},
                  "order": {"field": "i", "type": "quantitative"}}},
    {"data": {"name": "fine"}, "transform": [{"filter": "datum.l == 5"}], "mark": "point",
     "encoding": {"x": {"field": "x", "type": "quantitative", "scale": {"domain": [-0.0819, 2.2345], "nice": false}, "axis": null},
                  "y": {"field": "y", "type": "quantitative", "scale": {"domain": [-0.0621, 1.2203], "nice": false}, "axis": null}}},
    {"data": {"name": "red"}, "transform": [{"filter": "datum.l == 6"}], "mark": {"type": "circle", "size": 14},
     "encoding": {"x": {"field": "x", "type": "quantitative", "scale": {"domain": [-0.0819, 2.2345], "nice": false}, "axis": null},
                  "y": {"field": "y", "type": "quantitative", "scale": {"domain": [-0.0621, 1.2203], "nice": false}, "axis": null}}},
    {"data": {"values": [{}]}, "mark": "text",
     "encoding": {"x": {"datum": 0.02, "type": "quantitative", "scale": {"domain": [-0.0819, 2.2345], "nice": false}, "axis": null},
                  "y": {"datum": 1.0565, "type": "quantitative", "scale": {"domain": [-0.0621, 1.2203], "nice": false}, "axis": null},
                  "text": {"value": "—— Coarse ——"}}}
   ]},
   {"layer": [
    {"data": {"name": "tri"}, "mark": "line",
     "encoding": {"x": {"field": "x", "type": "quantitative", "scale": {"domain": [-1.2056, 1.1107], "nice": false}, "axis": null},
                  "y": {"field": "y", "type": "quantitative", "scale": {"domain": [-0.0621, 1.2203], "nice": false}, "axis": null},
                  "order": {"field": "i", "type": "quantitative"}}},
    {"data": {"name": "fine"}, "transform": [{"filter": "datum.l == 6"}], "mark": "point",
     "encoding": {"x": {"field": "x", "type": "quantitative", "scale": {"domain": [-1.2056, 1.1107], "nice": false}, "axis": null},
                  "y": {"field": "y", "type": "quantitative", "scale": {"domain": [-0.0621, 1.2203], "nice": false}, "axis": null}}},
    {"data": {"name": "fine"}, "transform": [{"filter": "datum.l == 6"}], "mark": {"type": "circle", "size": 10},
     "encoding": {"x": {"field": "x", "type": "quantitative", "scale": {"domain": [-1.2056, 1.1107], "nice": false}, "axis": null},
                  "y": {"field": "y", "type": "quantitative", "scale": {"domain": [-0.0621, 1.2203], "nice": false}, "axis": null}}},
    {"data": {"values": [{}]}, "mark": "text",
     "encoding": {"x": {"datum": 0.02, "type": "quantitative", "scale": {"domain": [-1.2056, 1.1107], "nice": false}, "axis": null},
                  "y": {"datum": 1.0565, "type": "quantitative", "scale": {"domain": [-0.0621, 1.2203], "nice": false}, "axis": null},
                  "text": {"value": "—— Fine ——"}}}
   ]}
  ]}
 ], "spacing": 7.3, "bounds": "flush"}
]
}
